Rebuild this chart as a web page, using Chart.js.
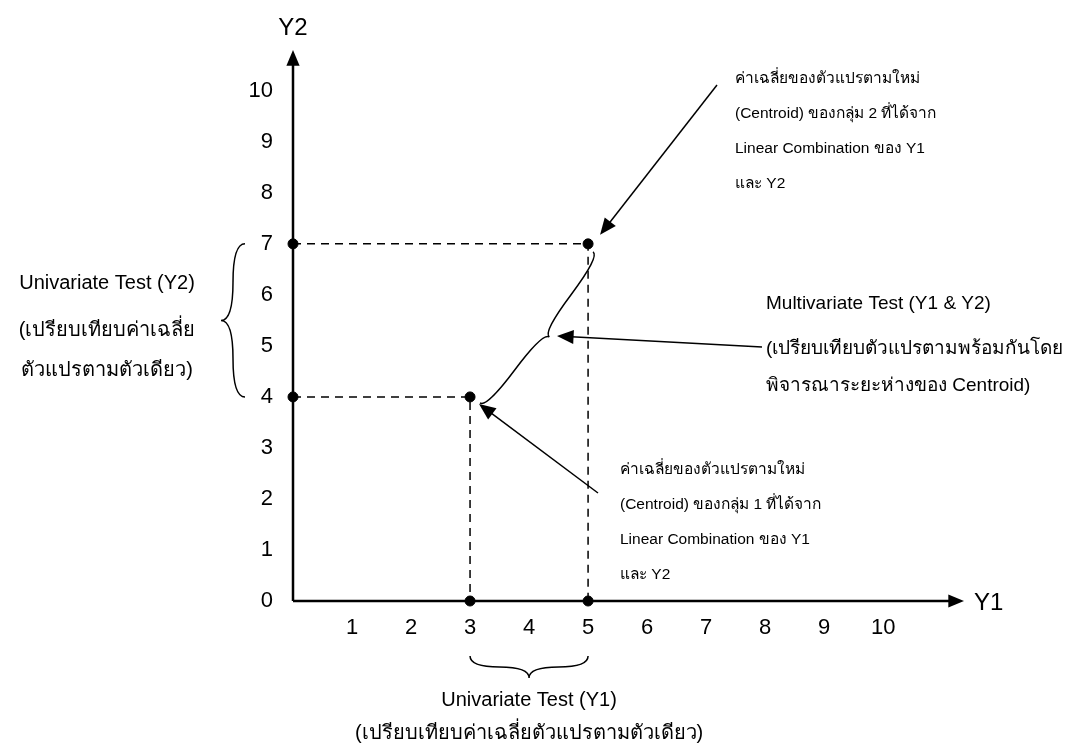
<!DOCTYPE html>
<html>
<head>
<meta charset="utf-8">
<script src="https://cdn.jsdelivr.net/npm/chart.js@4.4.1/dist/chart.umd.min.js"></script>
<style>
  html, body { margin: 0; padding: 0; background: #fff; }
  #wrap { width: 1090px; height: 751px; }
</style>
</head>
<body>
<div id="wrap"><canvas id="chart" width="1090" height="751"></canvas></div>
<script>
// values
const groupMeans = [
  { x: 3, y: 4 },   // group 1 centroid
  { x: 5, y: 7 }    // group 2 centroid
];
const projY1 = [{ x: 3, y: 0 }, { x: 5, y: 0 }];
const projY2 = [{ x: 0, y: 4 }, { x: 0, y: 7 }];
const guide1 = [{ x: 0, y: 4 }, { x: 3, y: 4 }, { x: 3, y: 0 }];
const guide2 = [{ x: 0, y: 7 }, { x: 5, y: 7 }, { x: 5, y: 0 }];
const xTicks = [1, 2, 3, 4, 5, 6, 7, 8, 9, 10];
const yTicks = [0, 1, 2, 3, 4, 5, 6, 7, 8, 9, 10];

const noteGroup2 = ['ค่าเฉลี่ยของตัวแปรตามใหม่', '(Centroid) ของกลุ่ม 2 ที่ได้จาก', 'Linear Combination ของ Y1', 'และ Y2'];
const noteGroup1 = ['ค่าเฉลี่ยของตัวแปรตามใหม่', '(Centroid) ของกลุ่ม 1 ที่ได้จาก', 'Linear Combination ของ Y1', 'และ Y2'];
const noteMulti = ['Multivariate Test (Y1 & Y2)', '(เปรียบเทียบตัวแปรตามพร้อมกันโดย', 'พิจารณาระยะห่างของ Centroid)'];
const noteUniY2 = ['Univariate Test (Y2)', '(เปรียบเทียบค่าเฉลี่ย', 'ตัวแปรตามตัวเดียว)'];
const noteUniY1 = ['Univariate Test (Y1)', '(เปรียบเทียบค่าเฉลี่ยตัวแปรตามตัวเดียว)'];

const FONT = '"Liberation Sans", Arial, sans-serif';

function arrow(ctx, x1, y1, x2, y2, head, width) {
  const a = Math.atan2(y2 - y1, x2 - x1);
  ctx.beginPath();
  ctx.moveTo(x1, y1);
  ctx.lineTo(x2 - Math.cos(a) * head * 0.8, y2 - Math.sin(a) * head * 0.8);
  ctx.lineWidth = width;
  ctx.stroke();
  ctx.beginPath();
  ctx.moveTo(x2, y2);
  ctx.lineTo(x2 - head * Math.cos(a - 0.4), y2 - head * Math.sin(a - 0.4));
  ctx.lineTo(x2 - head * Math.cos(a + 0.4), y2 - head * Math.sin(a + 0.4));
  ctx.closePath();
  ctx.fill();
}

// curly brace between two points, cusp pushed w px to one side
function brace(ctx, x1, y1, x2, y2, w, q) {
  let dx = x1 - x2, dy = y1 - y2;
  const len = Math.hypot(dx, dy);
  dx /= len; dy /= len;
  const qx1 = x1 + q * w * dy, qy1 = y1 - q * w * dx;
  const qx2 = (x1 - 0.25 * len * dx) + (1 - q) * w * dy, qy2 = (y1 - 0.25 * len * dy) - (1 - q) * w * dx;
  const tx = (x1 - 0.5 * len * dx) + w * dy, ty = (y1 - 0.5 * len * dy) - w * dx;
  const qx3 = x2 + q * w * dy, qy3 = y2 - q * w * dx;
  const qx4 = (x1 - 0.75 * len * dx) + (1 - q) * w * dy, qy4 = (y1 - 0.75 * len * dy) - (1 - q) * w * dx;
  ctx.beginPath();
  ctx.moveTo(x1, y1);
  ctx.quadraticCurveTo(qx1, qy1, qx2, qy2);
  ctx.quadraticCurveTo(2 * qx2 - qx1, 2 * qy2 - qy1, tx, ty);
  ctx.moveTo(x2, y2);
  ctx.quadraticCurveTo(qx3, qy3, qx4, qy4);
  ctx.quadraticCurveTo(2 * qx4 - qx3, 2 * qy4 - qy3, tx, ty);
  ctx.stroke();
}

function lines(ctx, arr, x, ys, align) {
  ctx.textAlign = align;
  arr.forEach((t, i) => ctx.fillText(t, x, ys[i]));
}

const decor = {
  id: 'decor',
  beforeDatasetsDraw(chart) {
    const ctx = chart.ctx;
    const xs = chart.scales.x, ys = chart.scales.y;
    const ox = xs.getPixelForValue(0), oy = ys.getPixelForValue(0);
    ctx.save();
    ctx.fillStyle = '#000';
    ctx.strokeStyle = '#000';
    arrow(ctx, ox, oy, xs.right, oy, 17, 2.5);
    arrow(ctx, ox, oy, ox, ys.top, 17, 2.5);
    ctx.restore();
  },
  afterDraw(chart) {
    const ctx = chart.ctx;
    const xs = chart.scales.x, ys = chart.scales.y;
    const X = v => xs.getPixelForValue(v), Y = v => ys.getPixelForValue(v);
    const ox = X(0), oy = Y(0);
    ctx.save();
    ctx.strokeStyle = '#000';
    ctx.fillStyle = '#000';

    ctx.textBaseline = 'middle';
    ctx.font = '24px ' + FONT;
    ctx.textAlign = 'center';
    ctx.fillText('Y2', ox, 28);
    ctx.textAlign = 'left';
    ctx.fillText('Y1', xs.right + 10, oy + 2);

    // braces
    ctx.lineWidth = 1.5;
    brace(ctx, ox - 48, Y(7), ox - 48, Y(4), 24, 0.5);
    brace(ctx, X(3), oy + 55, X(5), oy + 55, 22, 0.5);
    brace(ctx, X(3) + 10, Y(4) + 6, X(5) + 5, Y(7) + 8, 16, 0.5);

    // arrows to centroids
    arrow(ctx, 717, 85, X(5) + 12, Y(7) - 9, 18, 1.5);
    arrow(ctx, 598, 493, X(3) + 9, Y(4) + 7, 18, 1.5);
    arrow(ctx, 762, 347, 557, 336, 18, 1.5);

    // text blocks
    ctx.font = '15.5px ' + FONT;
    lines(ctx, noteGroup2, 735, [79, 114, 149, 184], 'left');
    lines(ctx, noteGroup1, 620, [470, 505, 540, 575], 'left');
    ctx.font = '19px ' + FONT;
    lines(ctx, noteMulti, 766, [304, 349, 386], 'left');
    ctx.font = '20px ' + FONT;
    lines(ctx, noteUniY2, 107, [283, 330, 370], 'center');
    lines(ctx, noteUniY1, X(4), [700, 733], 'center');
    ctx.restore();
  }
};

new Chart(document.getElementById('chart'), {
  type: 'scatter',
  data: {
    datasets: [
      { data: guide2, type: 'line', showLine: true, borderColor: '#000', borderWidth: 1.5, borderDash: [8, 6], pointRadius: 0, fill: false, tension: 0, clip: false },
      { data: guide1, type: 'line', showLine: true, borderColor: '#000', borderWidth: 1.5, borderDash: [8, 6], pointRadius: 0, fill: false, tension: 0, clip: false },
      { data: groupMeans.concat(projY1, projY2), backgroundColor: '#000', borderColor: '#000', pointRadius: 5, pointHoverRadius: 5, clip: false }
    ]
  },
  options: {
    responsive: false,
    animation: false,
    events: [],
    layout: { padding: { left: 246, right: 126, top: 50, bottom: 110 } },
    plugins: { legend: { display: false }, tooltip: { enabled: false } },
    scales: {
      x: {
        type: 'linear', min: 0, max: 11.37,
        grid: { display: false, drawTicks: false },
        border: { display: false },
        afterFit: s => { s.height = 40; },
        afterBuildTicks: s => { s.ticks = xTicks.map(v => ({ value: v })); },
        ticks: { color: '#000', font: { size: 22, family: FONT }, padding: 14 }
      },
      y: {
        type: 'linear', min: 0, max: 10.8,
        grid: { display: false, drawTicks: false },
        border: { display: false },
        afterFit: s => { s.width = 47; },
        afterBuildTicks: s => { s.ticks = yTicks.map(v => ({ value: v })); },
        ticks: { color: '#000', font: { size: 22, family: FONT }, padding: 20 }
      }
    }
  },
  plugins: [decor]
});
</script>
</body>
</html>
